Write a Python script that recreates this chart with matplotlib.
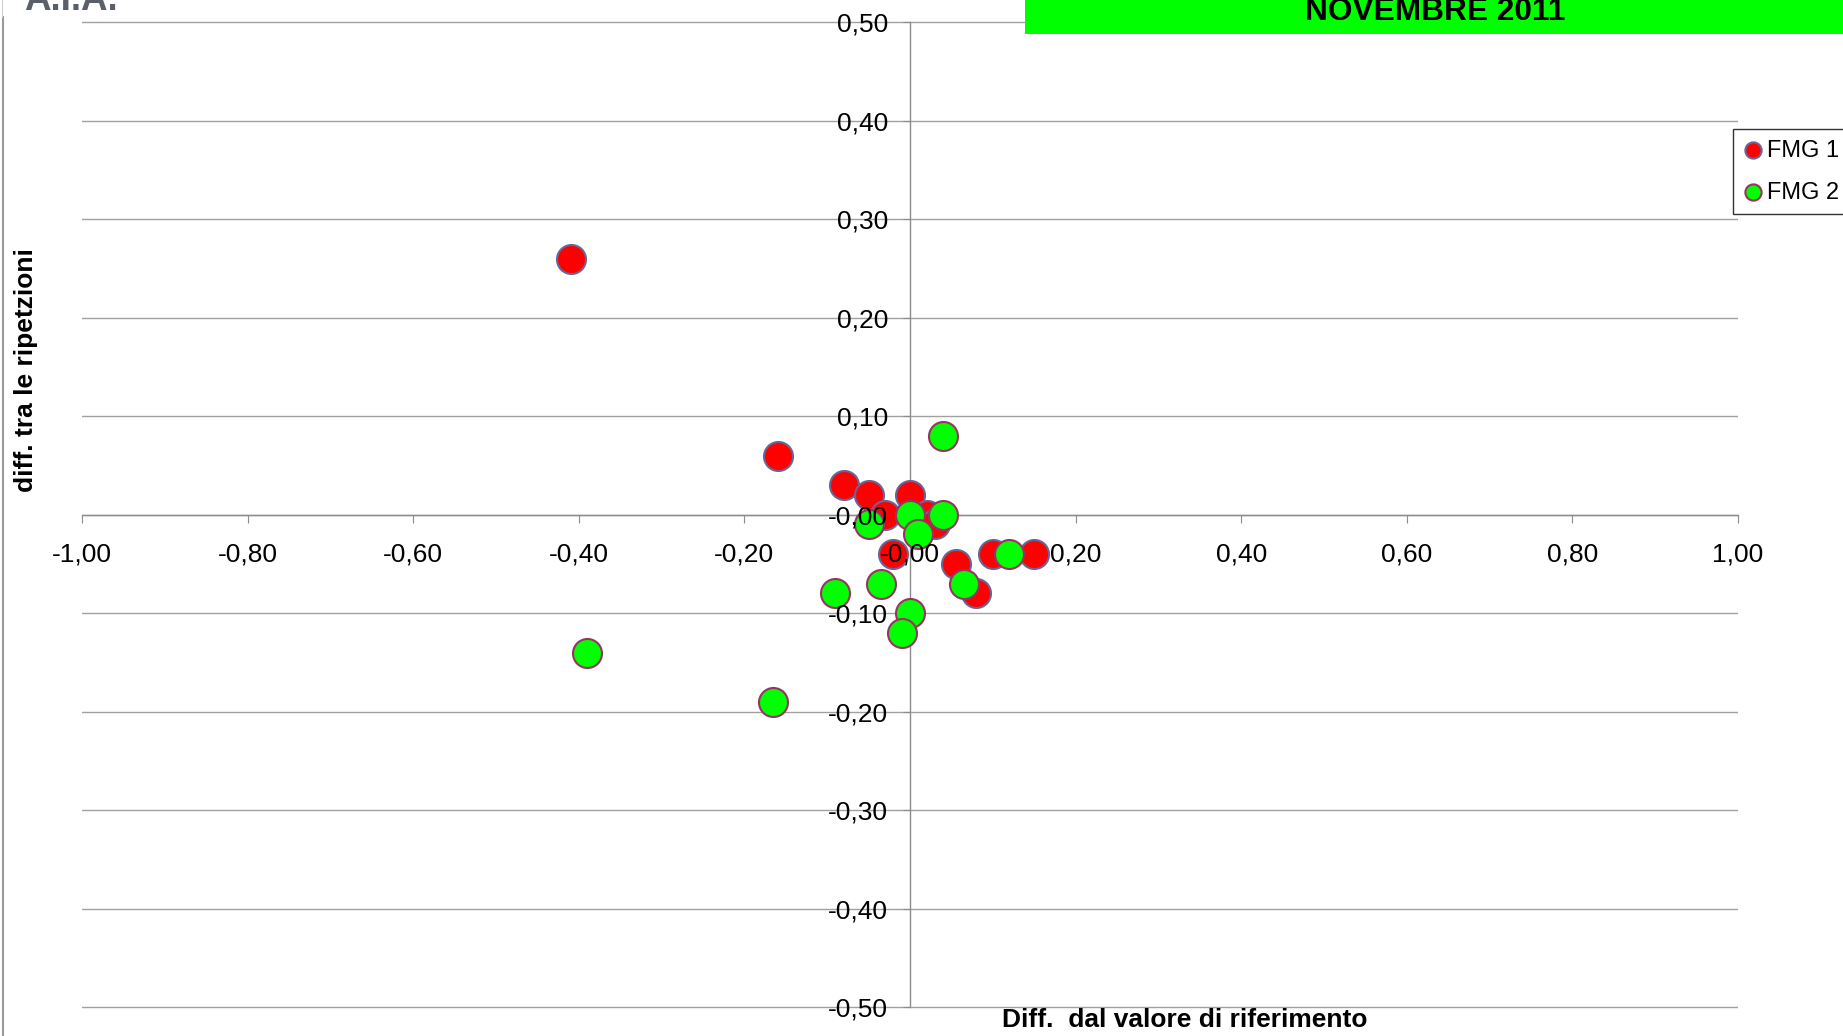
import matplotlib
matplotlib.use('Agg')
import matplotlib.pyplot as plt
import numpy as np
from matplotlib import font_manager
from matplotlib.patches import Rectangle
from matplotlib.lines import Line2D
from matplotlib.ticker import FuncFormatter

# FMG 1 (red) and FMG 2 (green): x = diff. dal valore di riferimento, y = diff. tra le ripetizioni
fmg1_x = [-0.41, -0.16, -0.08, -0.05, -0.03, 0.00, 0.02, 0.03, -0.02, 0.055, 0.08, 0.10, 0.15]
fmg1_y = [0.26, 0.06, 0.03, 0.02, 0.00, 0.02, 0.00, -0.01, -0.04, -0.05, -0.08, -0.04, -0.04]

fmg2_x = [0.04, -0.05, 0.00, 0.04, 0.01, 0.12, 0.065, -0.035, -0.09, 0.00, -0.01, -0.39, -0.165]
fmg2_y = [0.08, -0.01, 0.00, 0.00, -0.02, -0.04, -0.07, -0.07, -0.08, -0.10, -0.12, -0.14, -0.19]

labels = ['FMG 1', 'FMG 2']
x_ticks = np.round(np.arange(-1.0, 1.01, 0.2), 2)
y_ticks = np.round(np.arange(-0.5, 0.51, 0.1), 2)

plt.rcParams['font.family'] = ['Liberation Sans', 'DejaVu Sans']

W, H = 1843, 1036
fig = plt.figure(figsize=(W / 100, H / 100), dpi=100)

def fx(px):
    return px / W

def fy(py):
    return 1 - py / H

# small margin so the outer gridlines are not clipped at the axes edge
pos = [fx(82), fy(1009), fx(1738) - fx(82), fy(20.3) - fy(1009)]
ax = fig.add_axes(pos)
ax.set_xlim(-1, 1)
ax.set_ylim(-0.502, 0.502)
ax.set_xticks(x_ticks)
ax.set_yticks(y_ticks)
comma = FuncFormatter(lambda v, p: ('%.2f' % v).replace('.', ','))
ax.xaxis.set_major_formatter(comma)
ax.yaxis.set_major_formatter(comma)
ax.set_axisbelow(True)
ax.yaxis.grid(True, color='#a0a0a0', lw=1)
for s in ['top', 'right']:
    ax.spines[s].set_visible(False)
for s in ['left', 'bottom']:
    ax.spines[s].set_position(('data', 0))
    ax.spines[s].set_color('#8c8c8c')
    ax.spines[s].set_linewidth(1)
ax.spines['left'].set_bounds(-0.5, 0.5)
ax.spines['left'].set_zorder(0.6)
ax.spines['bottom'].set_zorder(0.6)
ax.tick_params(axis='x', direction='out', length=6, color='#8c8c8c', labelbottom=False)
ax.tick_params(axis='y', direction='out', length=5, color='#8c8c8c', labelleft=False)

sc1 = ax.scatter(fmg1_x, fmg1_y, s=436, c='#ff0000', edgecolors='#666699', linewidths=1.5, zorder=2, label=labels[0])
sc2 = ax.scatter(fmg2_x, fmg2_y, s=436, c='#00ff00', edgecolors='#993366', linewidths=1.5, zorder=3, label=labels[1])

# tick labels drawn on top of the markers, like in the spreadsheet chart
ax_lab = fig.add_axes(pos, sharex=ax, sharey=ax)
ax_lab.patch.set_visible(False)
for s in ['top', 'right']:
    ax_lab.spines[s].set_visible(False)
for s in ['left', 'bottom']:
    ax_lab.spines[s].set_position(('data', 0))
    ax_lab.spines[s].set_visible(False)
ax_lab.tick_params(axis='x', length=0, pad=20, labelsize=19)
ax_lab.tick_params(axis='y', length=0, pad=15.6, labelsize=19)

fig.text(fx(26), fy(370), 'diff. tra le ripetzioni', rotation=90, ha='center', va='center',
         fontsize=19, fontweight='bold')
fig.text(fx(1185), fy(1020), 'Diff.  dal valore di riferimento', ha='center', va='center',
         fontsize=19, fontweight='bold')

# header band
fig.add_artist(Rectangle((fx(1025), fy(34)), fx(W) - fx(1025), fy(0) - fy(34),
                         transform=fig.transFigure, facecolor='#00ff00', edgecolor='none', zorder=1))
names = {f.name for f in font_manager.fontManager.ttflist}
if 'Liberation Sans Narrow' in names:
    fig.text(fx(1435), fy(20), 'NOVEMBRE 2011', ha='center', va='baseline', fontsize=27.7,
             fontweight='bold', family='Liberation Sans Narrow', zorder=4)
else:
    fig.text(fx(1435), fy(20), 'NOVEMBRE 2011', ha='center', va='baseline', fontsize=22.8,
             fontweight='bold', zorder=4)
fig.text(fx(24), fy(10.5), 'A.I.A.', ha='left', va='baseline', fontsize=26.5,
         fontweight='bold', color='#5a6068')
fig.add_artist(Line2D([fx(2.5), fx(2.5)], [0, fy(17)], transform=fig.transFigure,
                      color='#9a9a9a', lw=1.5))
fig.add_artist(Line2D([fx(1.5), fx(1.5)], [fy(17), 1], transform=fig.transFigure,
                      color='#d0d0d0', lw=0.8))

leg = fig.legend(handles=[sc1, sc2], loc='upper left', bbox_to_anchor=(fx(1733), fy(129)),
                 fontsize=17, markerscale=0.56, scatterpoints=1, frameon=True, fancybox=False,
                 edgecolor='#333333', framealpha=1, borderaxespad=0, borderpad=0.45,
                 handlelength=0.8, handletextpad=0.2, labelspacing=0.85)
leg.get_frame().set_linewidth(1)

fig.savefig('out.png', dpi=100)
